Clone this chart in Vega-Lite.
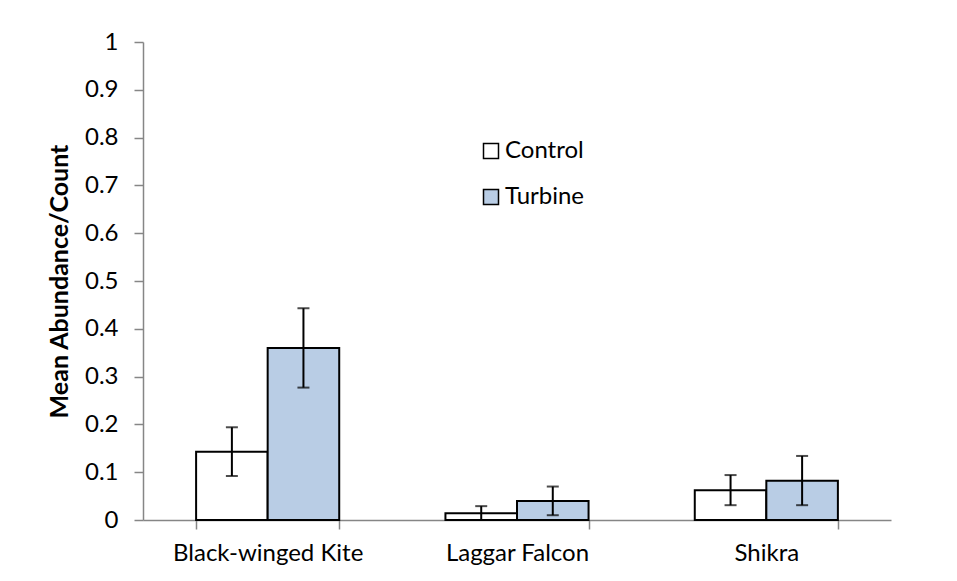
{
  "$schema": "https://vega.github.io/schema/vega-lite/v6.json",
  "width": 748,
  "height": 478,
  "autosize": {"type": "none"},
  "padding": {"left": 143, "top": 42, "right": 66, "bottom": 61},
  "background": "white",
  "config": {
    "view": {"stroke": null},
    "font": "Lato",
    "axis": {"grid": false, "domainColor": "#868686", "tickColor": "#868686", "domainWidth": 1.5, "tickWidth": 1.5, "labelColor": "#000000", "titleColor": "#000000", "labelFont": "Lato", "titleFont": "Lato"}
  },
  "data": {
    "values": [
      {"species": "Black-winged Kite", "group": "Control", "mean": 0.143, "lo": 0.092, "hi": 0.194},
      {"species": "Black-winged Kite", "group": "Turbine", "mean": 0.360, "lo": 0.277, "hi": 0.443},
      {"species": "Laggar Falcon", "group": "Control", "mean": 0.014, "lo": 0.0, "hi": 0.029},
      {"species": "Laggar Falcon", "group": "Turbine", "mean": 0.040, "lo": 0.010, "hi": 0.070},
      {"species": "Shikra", "group": "Control", "mean": 0.062, "lo": 0.031, "hi": 0.094},
      {"species": "Shikra", "group": "Turbine", "mean": 0.082, "lo": 0.031, "hi": 0.134}
    ]
  },
  "encoding": {
    "x": {
      "field": "species", "type": "nominal", "sort": null,
      "scale": {"paddingInner": 0.426, "paddingOuter": 0.213},
      "axis": {"title": null, "labelAngle": 0, "labelFontSize": 24, "labelPadding": 12, "labelLimit": 0, "tickBand": "extent", "tickSize": 9}
    },
    "xOffset": {"field": "group", "type": "nominal", "sort": ["Control", "Turbine"], "scale": {"paddingInner": 0, "paddingOuter": 0}}
  },
  "layer": [
    {
      "mark": {"type": "bar", "stroke": "#000000", "strokeWidth": 2},
      "encoding": {
        "y": {
          "field": "mean", "type": "quantitative",
          "scale": {"domain": [0, 1], "nice": false},
          "axis": {"title": "Mean Abundance/Count", "titleFontSize": 25, "titleFontWeight": "bold", "titlePadding": 12, "values": [0, 0.1, 0.2, 0.3, 0.4, 0.5, 0.6, 0.7, 0.8, 0.9, 1], "format": "~g", "labelFontSize": 24, "labelPadding": 16, "tickSize": 9}
        },
        "fill": {
          "field": "group", "type": "nominal",
          "scale": {"domain": ["Control", "Turbine"], "range": ["#FFFFFF", "#B9CDE5"]},
          "legend": {"title": null, "orient": "none", "legendX": 336, "legendY": 97, "padding": 0, "symbolType": "square", "symbolSize": 225, "symbolStrokeColor": "#000000", "symbolStrokeWidth": 1.5, "labelFontSize": 24, "labelOffset": 2, "rowPadding": 22, "labelColor": "#000000", "labelFont": "Lato"}
        }
      }
    },
    {
      "mark": {"type": "rule", "color": "#000000", "strokeWidth": 2},
      "encoding": {
        "y": {"field": "lo", "type": "quantitative"},
        "y2": {"field": "hi"}
      }
    },
    {
      "mark": {"type": "tick", "color": "#000000", "thickness": 2, "size": 12},
      "encoding": {"y": {"field": "lo", "type": "quantitative"}}
    },
    {
      "mark": {"type": "tick", "color": "#000000", "thickness": 2, "size": 12},
      "encoding": {"y": {"field": "hi", "type": "quantitative"}}
    }
  ]
}
